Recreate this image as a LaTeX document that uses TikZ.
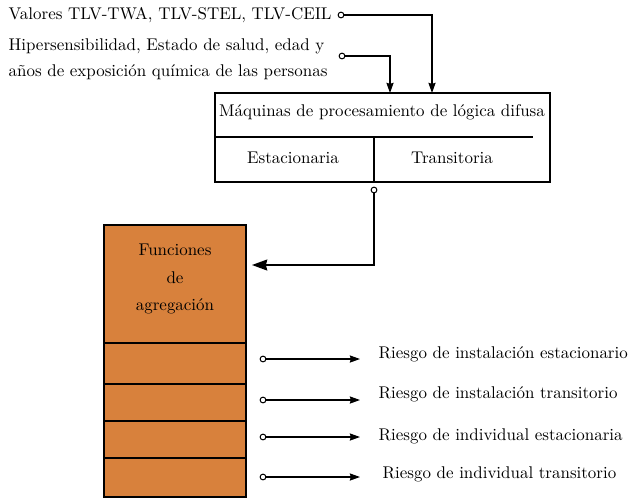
\documentclass[tikz,border=0pt]{standalone}
\usepackage{tikz}
\usetikzlibrary{arrows.meta,positioning}
\definecolor{aggorange}{RGB}{216,129,60}
\newlength{\pxl}
\setlength{\pxl}{0.59pt}

\begin{document}
\begin{tikzpicture}[x=0.59pt,y=-0.59pt,>={Stealth[length=6pt,width=4.2pt,inset=0.6pt]},line width=0.8pt,
  dot/.style={circle,draw,fill=white,line width=0.6pt,inner sep=0pt,minimum size=3.4pt},
  lab/.style={anchor=west,inner sep=0pt},
  cell/.style={draw,fill=aggorange,minimum width=142\pxl,inner sep=0pt,outer sep=0pt,anchor=north west},
  frame/.style={draw,minimum width=335\pxl,minimum height=89\pxl,inner sep=0pt,outer sep=0pt,anchor=north west}]
\useasboundingbox (0,0) rectangle (628,499);
% inputs
\node[lab] (tlv) at (8,15) {Valores TLV-TWA, TLV-STEL, TLV-CEIL};
\node[lab,align=left,font=\fontsize{10}{15.4}\selectfont] (pers) at (8,59)
  {Hipersensibilidad, Estado de salud, edad y\\ años de exposición química de las personas};
\node[dot] (c1) at (341,15) {};
\node[dot] (c2) at (342,56) {};
% fuzzy logic machines
\node[frame] (maq) at (215,93) {};
\node (maqtxt) at (382,112) {Máquinas de procesamiento de lógica difusa};
\node (est) at (293,158) {Estacionaria};
\node (tra) at (452,158) {Transitoria};
\draw (215,137) coordinate (hl) -- (533,137);
\draw (374,137) coordinate (vt) -- (374,182) coordinate (vb);
\coordinate (in1) at (432,93);
\coordinate (in2) at (390,93);
\draw[->] (c1) -| (in1);
\draw[->] (c2) -| (in2);
\node[dot] (c3) at (374,190) {};
% aggregation
\node[cell,minimum height=118\pxl] (agg) at (104,225) {};
\node[cell,minimum height=41\pxl,below=0pt of agg.south west,anchor=north west] (r1) {};
\node[cell,minimum height=37\pxl,below=0pt of r1.south west,anchor=north west] (r2) {};
\node[cell,minimum height=37\pxl,below=0pt of r2.south west,anchor=north west] (r3) {};
\node[cell,minimum height=39\pxl,below=0pt of r3.south west,anchor=north west] (r4) {};
\node[align=center,font=\fontsize{10}{16}\selectfont] (aggtxt) at (175,279) {Funciones\\ de\\ agregación};
\coordinate (tip) at (252,265);
\draw[-{Stealth[length=9pt,width=6.5pt,inset=0.8pt]}] (c3) |- (tip);
% outputs
\foreach \y/\yl/\xl/\txt [count=\i] in {359/354/378/Riesgo de instalación estacionario,
    400/394/378/Riesgo de instalación transitorio,
    437/436/378/Riesgo de individual estacionaria,
    477/474/382/Riesgo de individual transitorio}{
  \node[dot] (o\i) at (263,\y) {};
  \coordinate (e\i) at (360,\y);
  \node[lab] (out\i) at (\xl,\yl) {\txt};
  \draw[->] (o\i) -- (e\i);
}
\end{tikzpicture}
\end{document}
